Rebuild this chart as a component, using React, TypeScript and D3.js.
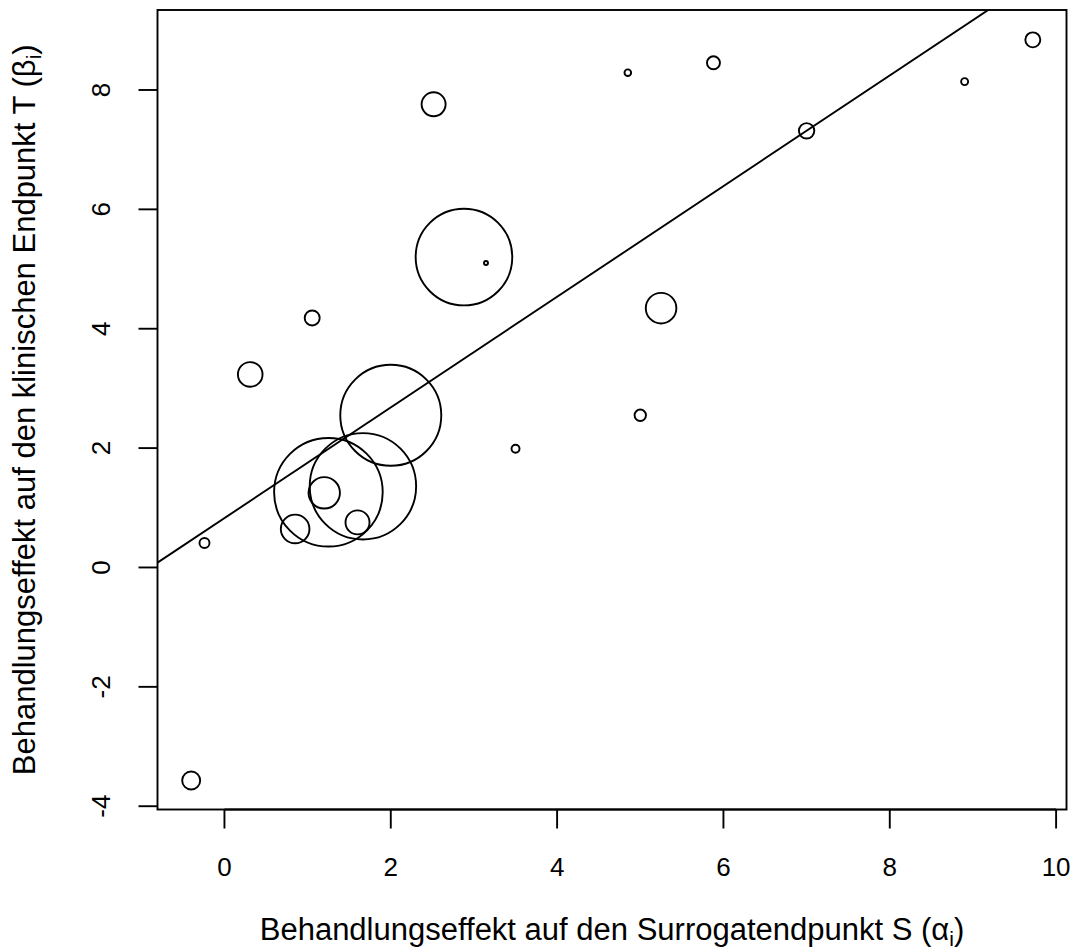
import React from "react";
import * as d3 from "d3";

// Studien: Effekt auf Surrogat (alpha), Effekt auf klinischen Endpunkt (beta), Gewicht
const alpha = [-0.4, -0.24, 0.85, 1.25, 1.2, 1.665, 1.6, 2.0, 2.88, 3.145, 0.31, 1.055, 2.515, 3.5, 4.85, 5.0, 5.25, 5.88, 7.0, 8.9, 9.72];
const beta = [-3.57, 0.41, 0.645, 1.26, 1.25, 1.36, 0.755, 2.55, 5.2, 5.1, 3.235, 4.18, 7.76, 1.99, 8.29, 2.55, 4.345, 8.455, 7.315, 8.14, 8.84];
const weight = [9, 5, 14.3, 54.3, 15.7, 53.2, 12, 50.5, 48.3, 2, 12.3, 7.5, 12, 4, 3.3, 5.7, 15.3, 6.5, 7.7, 3.5, 7.5];

// Regressionsgerade beta = a + b * alpha
const intercept = 0.827;
const slope = 0.927;

const xTicks = [0, 2, 4, 6, 8, 10];
const yTicks = [-4, -2, 0, 2, 4, 6, 8];

const W = 1075;
const H = 949;
const left = 157.5;
const right = 1066.5;
const top = 10;
const bottom = 809.5;
const font = "'Liberation Sans', Arial, Helvetica, sans-serif";
const lw = 1.9;

export default function App() {
  const xScale = d3.scaleLinear().domain([-0.805, 10.125]).range([left, right]);
  const yScale = d3.scaleLinear().domain([-4.055, 9.34]).range([bottom, top]);
  const rScale = d3.scaleLinear().domain([0, d3.max(weight) as number]).range([0, 54.3]);

  const xd = xScale.domain();
  const lineGen = d3
    .line<number>()
    .x((d) => xScale(d))
    .y((d) => yScale(intercept + slope * d));

  return (
    <svg
      width={W}
      height={H}
      style={{ position: "absolute", left: 0, top: 0, background: "#fff" }}
      fontFamily={font}
    >
      <defs>
        <clipPath id="plotArea">
          <rect x={left} y={top} width={right - left} height={bottom - top} />
        </clipPath>
      </defs>
      <rect x={0} y={0} width={W} height={H} fill="#fff" />

      {/* Punkte */}
      <g fill="none" stroke="#000" strokeWidth={lw}>
        {alpha.map((a, i) => (
          <circle key={i} cx={xScale(a)} cy={yScale(beta[i])} r={rScale(weight[i])} />
        ))}
      </g>

      {/* Regressionsgerade */}
      <path
        d={lineGen([xd[0], xd[1]]) || ""}
        fill="none"
        stroke="#000"
        strokeWidth={lw}
        clipPath="url(#plotArea)"
      />

      {/* Rahmen */}
      <rect x={left} y={top} width={right - left} height={bottom - top} fill="none" stroke="#000" strokeWidth={lw} />

      {/* x-Achse */}
      <g>
        <line x1={xScale(0)} x2={xScale(10)} y1={bottom} y2={bottom} stroke="#000" strokeWidth={lw} />
        {xTicks.map((t) => (
          <g key={t} transform={`translate(${xScale(t)},0)`}>
            <line y1={bottom} y2={bottom + 19} stroke="#000" strokeWidth={lw} />
            <text y={876} textAnchor="middle" fontSize={26}>
              {t}
            </text>
          </g>
        ))}
      </g>

      {/* y-Achse */}
      <g>
        {yTicks.map((t) => (
          <g key={t} transform={`translate(0,${yScale(t)})`}>
            <line x1={left} x2={left - 19} stroke="#000" strokeWidth={lw} />
            <text transform={`translate(110,0) rotate(-90)`} textAnchor="middle" fontSize={26}>
              {t}
            </text>
          </g>
        ))}
      </g>

      {/* Achsentitel */}
      <text x={(left + right) / 2} y={940} textAnchor="middle" fontSize={31}>
        Behandlungseffekt auf den Surrogatendpunkt S (α
        <tspan fontSize={21} dy={6}>i</tspan>
        <tspan dy={-6}>)</tspan>
      </text>
      <text
        transform={`translate(35,${(top + bottom) / 2}) rotate(-90)`}
        textAnchor="middle"
        fontSize={31}
      >
        Behandlungseffekt auf den klinischen Endpunkt T (β
        <tspan fontSize={21} dy={6}>i</tspan>
        <tspan dy={-6}>)</tspan>
      </text>
    </svg>
  );
}
